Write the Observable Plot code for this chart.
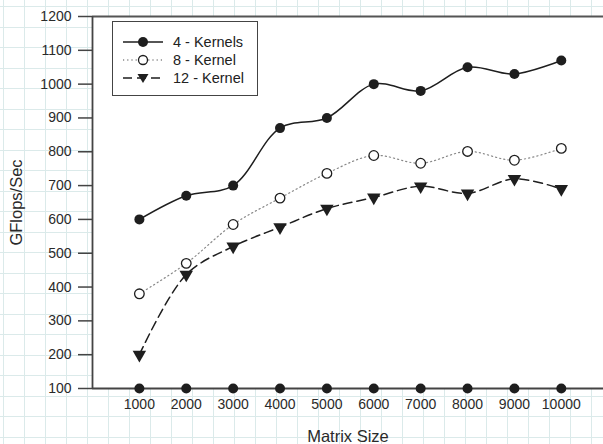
<!DOCTYPE html>
<html>
<head>
<meta charset="utf-8">
<script src="https://cdn.jsdelivr.net/npm/d3@7"></script>
<script src="https://cdn.jsdelivr.net/npm/@observablehq/plot@0.6"></script>
<style>
  html, body { margin: 0; padding: 0; background: #fff; }
  #wrap {
    position: relative; width: 603px; height: 444px; overflow: hidden;
    font-family: "Liberation Sans", Arial, sans-serif;
    background-color: #fff;
    background-image:
      repeating-linear-gradient(to right, transparent 0 3px, #dbeaea 3px 4px, transparent 4px 21px),
      repeating-linear-gradient(to bottom, transparent 0 6px, #dbeaea 6px 7px, transparent 7px 20.5px);
  }
  #chart svg { background: transparent !important; }
  #chart svg text { fill: #2a2a2a; }
  #chart svg g[aria-label$="tick label"] text { font-size: 14px !important; }
  #chart svg g[aria-label$="axis label"] text { font-size: 16.5px !important; }
  #legend {
    position: absolute; left: 112px; top: 21px; width: 144px; height: 73px;
    border: 1.5px solid #444; background: #fff;
    font-size: 14.5px; color: #222;
  }
  .row { position: absolute; left: 10px; height: 18px; display: flex; align-items: center; }
  .row svg { display: block; }
  .row span { margin-left: 10px; }
</style>
</head>
<body>
<div id="wrap"><div id="chart"></div><div id="legend"></div></div>
<script>
const xValues   = [1000, 2000, 3000, 4000, 5000, 6000, 7000, 8000, 9000, 10000];
const kernels4  = [600, 670, 700, 870, 900, 1000, 980, 1050, 1030, 1070];
const kernels8  = [380, 470, 585, 663, 736, 789, 766, 801, 775, 810];
const kernels12 = [200, 437, 520, 577, 632, 665, 698, 677, 720, 690];
const baseline  = [100, 100, 100, 100, 100, 100, 100, 100, 100, 100];
const seriesNames = ["4 - Kernels", "8 - Kernel", "12 - Kernel"];
const yTicks = [100, 200, 300, 400, 500, 600, 700, 800, 900, 1000, 1100, 1200];
const xTicks = xValues;

const toRows = vals => xValues.map((x, i) => ({x, y: vals[i]}));
const d4 = toRows(kernels4), d8 = toRows(kernels8), d12 = toRows(kernels12), dBase = toRows(baseline);

const ink = "#1e1e1e";
const chart = Plot.plot({
  width: 603, height: 444,
  marginLeft: 92, marginRight: 0, marginTop: 16, marginBottom: 56,
  style: {background: "transparent", fontFamily: "'Liberation Sans', Arial, sans-serif", fontSize: "14px", color: "#333", overflow: "visible"},
  x: {domain: [0, 10900]},
  y: {domain: [100, 1200]},
  marks: [
    Plot.frame({fill: "white", stroke: "none"}),
    Plot.axisY({ticks: yTicks, tickSize: 14, tickPadding: 7, tickFormat: d => String(d), stroke: "#444", strokeWidth: 1.5,
      label: "GFlops/Sec", labelAnchor: "center", labelArrow: "none", labelOffset: 82}),
    Plot.axisX({ticks: xTicks, tickSize: 0, tickPadding: 11, tickFormat: d => String(d),
      label: "Matrix Size", labelAnchor: "center", labelArrow: "none", labelOffset: 53}),
    Plot.ruleY([1200], {stroke: "#555", strokeWidth: 1.8}),
    Plot.ruleY([100], {stroke: "#444", strokeWidth: 1.8}),
    Plot.ruleX([0], {stroke: "#444", strokeWidth: 1.8}),
    Plot.line(d8, {x: "x", y: "y", curve: "catmull-rom", stroke: "#888", strokeWidth: 1.2, strokeDasharray: "1.2,3"}),
    Plot.line(d12, {x: "x", y: "y", curve: "catmull-rom", stroke: ink, strokeWidth: 1.5, strokeDasharray: "9,5"}),
    Plot.line(d4, {x: "x", y: "y", curve: "catmull-rom", stroke: ink, strokeWidth: 1.5}),
    Plot.dot(d8, {x: "x", y: "y", r: 4.8, fill: "white", stroke: ink, strokeWidth: 1.3}),
    Plot.dot(d12, {x: "x", y: "y", symbol: "triangle", rotate: 180, r: 5, fill: ink, stroke: "none"}),
    Plot.dot(d4, {x: "x", y: "y", r: 5, fill: ink}),
    Plot.dot(dBase, {x: "x", y: "y", r: 5, fill: ink})
  ]
});
document.getElementById("chart").appendChild(chart);

// legend (HTML)
const legend = document.getElementById("legend");
const samples = [
  {dash: null, stroke: ink, sym: "dot"},
  {dash: "1.2,3", stroke: "#888", sym: "open"},
  {dash: "9,5", stroke: ink, sym: "tri"}
];
seriesNames.forEach((name, i) => {
  const s = samples[i];
  const row = document.createElement("div");
  row.className = "row";
  row.style.top = (11 + i * 18) + "px";
  let sym = "";
  if (s.sym === "dot") sym = `<circle cx="20" cy="9" r="5" fill="${ink}"/>`;
  if (s.sym === "open") sym = `<circle cx="20" cy="9" r="4.5" fill="white" stroke="${ink}" stroke-width="1.3"/>`;
  if (s.sym === "tri") sym = `<path d="M14.5,5 L25.5,5 L20,14 Z" fill="${ink}"/>`;
  row.innerHTML = `<svg width="40" height="18"><line x1="0" y1="9" x2="40" y2="9" stroke="${s.stroke}" stroke-width="1.5" ${s.dash ? `stroke-dasharray="${s.dash}"` : ""}/>${sym}</svg><span>${name}</span>`;
  legend.appendChild(row);
});
</script>
</body>
</html>
